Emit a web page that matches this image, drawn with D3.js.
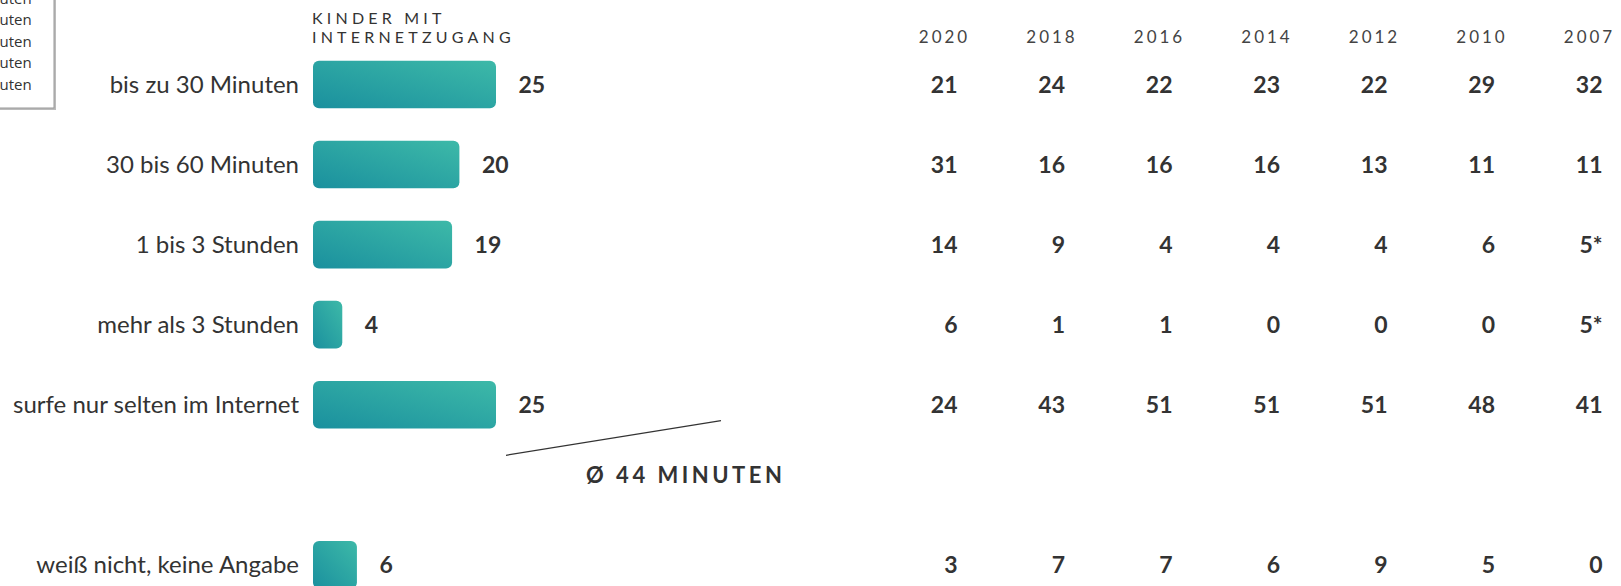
<!DOCTYPE html>
<html>
<head>
<meta charset="utf-8">
<script src="https://cdn.jsdelivr.net/npm/d3@7"></script>
<style>
  body { margin: 0; background: #fff; overflow: hidden; }
  svg { display: block; font-family: Lato, "Open Sans", sans-serif; }
</style>
</head>
<body>
<div id="chart"></div>
<script>
const categories = [
  'bis zu 30 Minuten',
  '30 bis 60 Minuten',
  '1 bis 3 Stunden',
  'mehr als 3 Stunden',
  'surfe nur selten im Internet',
  'weiß nicht, keine Angabe'
];
const current = [25, 20, 19, 4, 25, 6];

const years = ['2020', '2018', '2016', '2014', '2012', '2010', '2007'];
const y2020 = [21, 31, 14, 6, 24, 3];
const y2018 = [24, 16, 9, 1, 43, 7];
const y2016 = [22, 16, 4, 1, 51, 7];
const y2014 = [23, 16, 4, 0, 51, 6];
const y2012 = [22, 13, 4, 0, 51, 9];
const y2010 = [29, 11, 6, 0, 48, 5];
const y2007 = [32, 11, '5*', '5*', 41, 0];

const headerLines = ['KINDER MIT', 'INTERNETZUGANG'];
const averageLabel = 'Ø 44 MINUTEN';
const tooltipLines = ['bis zu 30 Minuten', '30 bis 60 Minuten', 'mehr als 60 Minuten', 'ca. 44 Minuten', 'keine Minuten'];

const history = [y2020, y2018, y2016, y2014, y2012, y2010, y2007];

const width = 1621;
const height = 586;

const svg = d3.select('#chart')
  .append('svg')
  .attr('width', width)
  .attr('height', height);

// gradient for the bars, dark bottom-left to light top-right
const grad = svg.append('defs')
  .append('linearGradient')
  .attr('id', 'barGrad')
  .attr('x1', 0).attr('y1', 1)
  .attr('x2', 1).attr('y2', 0);
grad.append('stop').attr('offset', '0%').attr('stop-color', '#1a909e');
grad.append('stop').attr('offset', '100%').attr('stop-color', '#3db9a8');

// one empty slot before the last row holds the average note
const slots = [...categories.slice(0, 5), '', categories[5]];
const yScale = d3.scalePoint()
  .domain(slots)
  .range([84.5, 564.8]);

const xScale = d3.scaleLinear()
  .domain([0, 25])
  .range([0, 183]);

const barX = 313;
const barH = 47.6;

const colScale = d3.scalePoint()
  .domain(years)
  .range([943, 1588]);

const rows = categories.map((c, i) => ({ label: c, value: current[i], idx: i }));

// row labels
svg.selectAll('.label')
  .data(rows)
  .enter()
  .append('text')
  .attr('class', 'label')
  .attr('x', 299)
  .attr('y', d => yScale(d.label) + 8.5)
  .attr('text-anchor', 'end')
  .text(d => d.label)
  .style('font-size', '24px')
  .style('fill', '#333');

// bars
svg.selectAll('.bar')
  .data(rows)
  .enter()
  .append('rect')
  .attr('class', 'bar')
  .attr('x', barX)
  .attr('y', d => yScale(d.label) - barH / 2)
  .attr('width', d => xScale(d.value))
  .attr('height', barH)
  .attr('rx', 6)
  .style('fill', 'url(#barGrad)');

// value labels next to bars
svg.selectAll('.value')
  .data(rows)
  .enter()
  .append('text')
  .attr('class', 'value')
  .attr('x', d => barX + xScale(d.value) + 22.5)
  .attr('y', d => yScale(d.label) + 8.5)
  .text(d => d.value)
  .style('font-size', '23px')
  .style('font-weight', 'bold')
  .style('fill', '#333');

// header over the bars
svg.append('text')
  .attr('x', 312)
  .selectAll('tspan')
  .data(headerLines)
  .enter()
  .append('tspan')
  .attr('x', 312)
  .attr('y', (d, i) => 24 + i * 18.7)
  .text(d => d)
  .style('font-size', '16px')
  .style('letter-spacing', '4.2px')
  .style('fill', '#333');

// year headers
svg.selectAll('.year')
  .data(years)
  .enter()
  .append('text')
  .attr('class', 'year')
  .attr('x', d => colScale(d) + 1.5)
  .attr('y', 43.3)
  .attr('text-anchor', 'middle')
  .text(d => d)
  .style('font-size', '17px')
  .style('letter-spacing', '3px')
  .style('fill', '#444');

// history table
years.forEach((yr, j) => {
  svg.selectAll('.hist-' + yr)
    .data(history[j])
    .enter()
    .append('text')
    .attr('x', colScale(yr) + 14.5)
    .attr('y', (d, i) => yScale(categories[i]) + 8.5)
    .attr('text-anchor', 'end')
    .text(d => d)
    .style('font-size', '23px')
    .style('font-weight', 'bold')
    .style('fill', '#333');
});

// average annotation
svg.append('line')
  .attr('x1', 506).attr('y1', 455.3)
  .attr('x2', 721).attr('y2', 420.7)
  .style('stroke', '#333')
  .style('stroke-width', 1.2);

svg.append('text')
  .attr('x', 586)
  .attr('y', 482.7)
  .text(averageLabel)
  .style('font-size', '22px')
  .style('font-weight', 'bold')
  .style('letter-spacing', '3.5px')
  .style('fill', '#333');

// tooltip box, mostly outside the view
const tip = svg.append('g');
tip.append('rect')
  .attr('x', -240).attr('y', -20)
  .attr('width', 296).attr('height', 130)
  .style('fill', '#bbb');
tip.append('rect')
  .attr('x', -242).attr('y', -22)
  .attr('width', 296).attr('height', 130)
  .style('fill', '#fff')
  .style('stroke', '#999')
  .style('stroke-width', 1);
tip.selectAll('text')
  .data(tooltipLines)
  .enter()
  .append('text')
  .attr('x', 31.7)
  .attr('y', (d, i) => 3.5 + i * 21.6)
  .attr('text-anchor', 'end')
  .text(d => d)
  .style('font-family', '"Open Sans", sans-serif')
  .style('font-size', '15px')
  .style('fill', '#333');
</script>
</body>
</html>
